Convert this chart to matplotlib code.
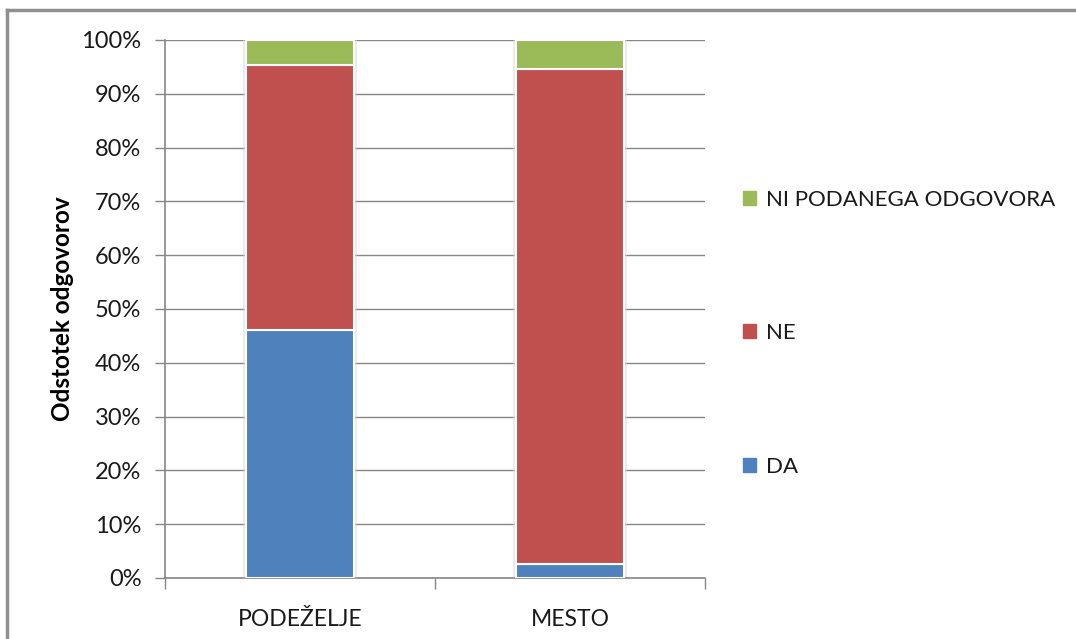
import matplotlib.pyplot as plt
from matplotlib.patches import Patch
from matplotlib.lines import Line2D

plt.rcParams['font.family'] = ['Lato', 'DejaVu Sans']

# podatki (odstotki)
kategorije = ['PODEŽELJE', 'MESTO']
da = [46.1, 2.6]
ne = [49.2, 92.0]
ni_odgovora = [4.7, 5.4]

modra = '#4F81BD'
rdeca = '#C0504D'
zelena = '#9BBB59'
siva = '#868686'

fig = plt.figure(figsize=(10.76, 6.39), dpi=100)
ax = fig.add_axes([165/1076, 61/639, 540/1076, 538/639])

x = range(len(kategorije))
dno2 = [a + b for a, b in zip(da, ne)]
skupaj = [a + b + c for a, b, c in zip(da, ne, ni_odgovora)]

# rahla senca okoli stolpcev
ax.bar(x, skupaj, width=0.425, color='#d9d9d9', alpha=0.5, zorder=2)
ax.bar(x, da, width=0.4, color=modra, edgecolor='white', linewidth=1.5, zorder=3)
ax.bar(x, ne, width=0.4, bottom=da, color=rdeca, edgecolor='white', linewidth=1.5, zorder=3)
ax.bar(x, ni_odgovora, width=0.4, bottom=dno2, color=zelena, edgecolor='white', linewidth=1.5, zorder=3)

ax.set_xlim(-0.5, 1.5)
ax.set_ylim(0, 100)
ax.set_yticks(range(0, 101, 10))
ax.set_yticklabels([f'{v}%' for v in range(0, 101, 10)])
ax.yaxis.grid(True, color=siva, linewidth=1)
ax.set_axisbelow(True)

ax.set_xticks(list(x))
ax.set_xticklabels(kategorije)
ax.set_xticks([-0.5, 0.5, 1.5], minor=True)
ax.tick_params(axis='x', which='major', length=0, pad=22, labelsize=16.5, labelcolor='#1a1a1a')
ax.tick_params(axis='x', which='minor', length=8, color=siva, width=1)
ax.tick_params(axis='y', length=7, color=siva, width=1, labelsize=17, pad=10, labelcolor='#1a1a1a')

for s in ['top', 'right']:
    ax.spines[s].set_visible(False)
for s in ['left', 'bottom']:
    ax.spines[s].set_color(siva)
    ax.spines[s].set_linewidth(1.2)

ax.set_ylabel('Odstotek odgovorov', fontsize=17.5, fontweight='bold', labelpad=5)

rocaji = [Patch(color=zelena), Patch(color=rdeca), Patch(color=modra)]
oznake = ['NI PODANEGA ODGOVORA', 'NE', 'DA']
ax.legend(rocaji, oznake, loc='center left', bbox_to_anchor=(1.07, 0.455),
          frameon=False, fontsize=16, labelspacing=5.1, handlelength=0.6,
          handleheight=0.6, handletextpad=0.45, borderpad=0, borderaxespad=0,
          labelcolor='#1a1a1a')

# okvir slike (levo in zgoraj)
fig.add_artist(Line2D([7/1076, 7/1076], [0, 1 - 10/639], color='#909090', linewidth=2.5))
fig.add_artist(Line2D([7/1076, 1], [1 - 10/639, 1 - 10/639], color='#909090', linewidth=2.5))

plt.savefig('out.png', dpi=100)
